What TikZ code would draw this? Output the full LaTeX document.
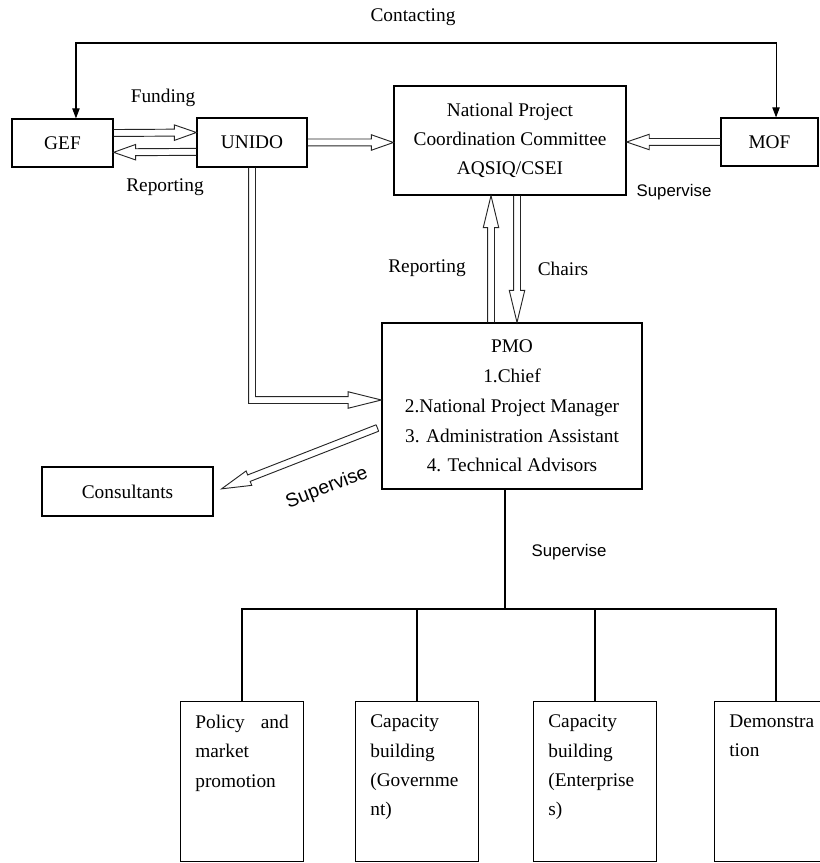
\documentclass[tikz,border=0pt]{standalone}
\usepackage{fontspec}
\setmainfont{Liberation Serif}
\setsansfont{Liberation Sans}
\usepackage{tikz}
\usetikzlibrary{arrows.meta, positioning, calc}
\tikzset{
  unitbox/.style={draw, line width=0.9pt, inner sep=0pt},
  suplabel/.style={font=\sffamily\fontsize{12.6}{15}\selectfont},
  hollow/.style={line width=0.7pt, draw=black!85, line join=miter},
  thinline/.style={line width=0.8pt},
}

\begin{document}
\begin{tikzpicture}[x=0.75pt, y=-0.75pt, every node/.style={font=\fontsize{14.5}{22}\selectfont}]
  \clip (0,0) rectangle (820,863);
  % Define arrow sizes
  \def\shaftw{2.6pt}
  \def\headw{5.8pt}

  % Hollow block arrow: [head length]{from}{to}
  \newcommand{\hollowarrow}[3][16.5pt]{
    \path ($(#3)!#1!(#2)$) coordinate (hb);
    \draw[hollow] ($(#2)!\shaftw!90:(#3)$) -- ($(hb)!\shaftw!90:(#3)$) -- ($(hb)!\headw!90:(#3)$) -- (#3)
      -- ($(hb)!\headw!-90:(#3)$) -- ($(hb)!\shaftw!-90:(#3)$) -- ($(#2)!\shaftw!-90:(#3)$);
  }

  % === Top row ===
  \node[unitbox, minimum width=75.75pt, minimum height=36pt] (gef) at (62.5,143) {GEF};
  \node[unitbox, minimum width=82.5pt, minimum height=36.75pt] (unido) at (252,142.5) {UNIDO};
  \node[unitbox, minimum width=174pt, minimum height=81.75pt, align=center] (npcc) at (510,140.5)
    {National Project\\Coordination Committee\\AQSIQ/CSEI};
  \node[unitbox, minimum width=72.75pt, minimum height=36pt] (mof) at (769.5,142) {MOF};

  % === PMO and consultants ===
  \node[unitbox, minimum width=195pt, minimum height=124.5pt, align=center,
        font=\fontsize{14.5}{22.3}\selectfont] (pmo) at (512,406)
    {PMO\\1.Chief\\2.National Project Manager\\3. Administration Assistant\\4. Technical Advisors};
  \node[unitbox, minimum width=128.25pt, minimum height=36.75pt] (cons) at (127.5,491.5) {Consultants};

  % === Bottom boxes ===
  \foreach \n/\x/\txt in {pol/242/{Policy\hfill and\\market\\promotion},
                          cgov/417/{Capacity\\building\\(Governme\\nt)},
                          cent/595/{Capacity\\building\\(Enterprise\\s)},
                          demo/776/{Demonstra\\tion}}
    {\node[unitbox, anchor=north, minimum height=120pt, inner xsep=11pt, inner ysep=9pt] (\n) at (\x,701)
      {\parbox[t][100pt][t]{70pt}{\raggedright\txt}};}

  % === Labels ===
  \node (contacting) at (413,17) {Contacting};
  \node (funding) at (163,98) {Funding};
  \node (reportgef) at (165,187) {Reporting};
  \node[suplabel] (supmof) at (674,192) {Supervise};
  \node (reportpmo) at (427,268) {Reporting};
  \node (chairs) at (563,269) {Chairs};
  \node[suplabel, font=\sffamily\fontsize{14.5}{17}\selectfont, rotate=21] (supcons) at (327,488) {Supervise};
  \node[suplabel] (supbottom) at (569,552) {Supervise};

  % === Contacting line ===
  \coordinate (ctop) at (413,43);
  \draw[thinline, {Triangle[length=7.5pt,width=5.5pt]}-{Triangle[length=7.5pt,width=5.5pt]}]
    ([xshift=10.1pt]gef.north) |- (ctop) -| ([xshift=4.9pt]mof.north);

  % === Hollow arrows ===
  \coordinate (fund1) at ([yshift=7.5pt]gef.east);
  \coordinate (fund2) at ([yshift=7.5pt]unido.west);
  \hollowarrow{fund1}{fund2}
  \coordinate (rep1) at ([yshift=-7pt]unido.west);
  \coordinate (rep2) at ([yshift=-7pt]gef.east);
  \hollowarrow{rep1}{rep2}
  \hollowarrow{unido.east}{unido.east -| npcc.west}
  \hollowarrow[17pt]{mof.west}{mof.west -| npcc.east}

  \coordinate (up1) at ([xshift=-15.75pt]pmo.north);
  \hollowarrow[24pt]{up1}{up1 |- npcc.south}
  \coordinate (dn1) at ([xshift=3.75pt]pmo.north);
  \hollowarrow[24pt]{dn1 |- npcc.south}{dn1}

  \coordinate (sc1) at ([xshift=-3pt,yshift=-16.5pt]pmo.west);
  \coordinate (sc2) at ([xshift=6pt,yshift=2pt]cons.east);
  \hollowarrow[22pt]{sc1}{sc2}
  \draw[hollow] ($(sc1)!\shaftw!90:(sc2)$) -- ($(sc1)!\shaftw!-90:(sc2)$);

  % UNIDO down and into PMO
  \coordinate (ut) at ([yshift=4.5pt]pmo.west);
  \coordinate (uc) at (unido.south |- ut);
  \draw[hollow] ([xshift=-\shaftw]unido.south) -- ([xshift=-\shaftw,yshift=-\shaftw]uc)
    -- ([xshift=-25pt,yshift=-\shaftw]ut) -- ([xshift=-25pt,yshift=-6.2pt]ut) -- (ut)
    -- ([xshift=-25pt,yshift=6.2pt]ut) -- ([xshift=-25pt,yshift=\shaftw]ut)
    -- ([xshift=\shaftw,yshift=\shaftw]uc) -- ([xshift=\shaftw]unido.south);

  % === Tree below PMO ===
  \coordinate (hub) at (505,609);
  \draw[thinline] ([xshift=-5.25pt]pmo.south) -- (hub);
  \foreach \n in {pol,cgov,cent,demo} {\draw[thinline] (hub) -| (\n.north);}
\end{tikzpicture}
\end{document}
